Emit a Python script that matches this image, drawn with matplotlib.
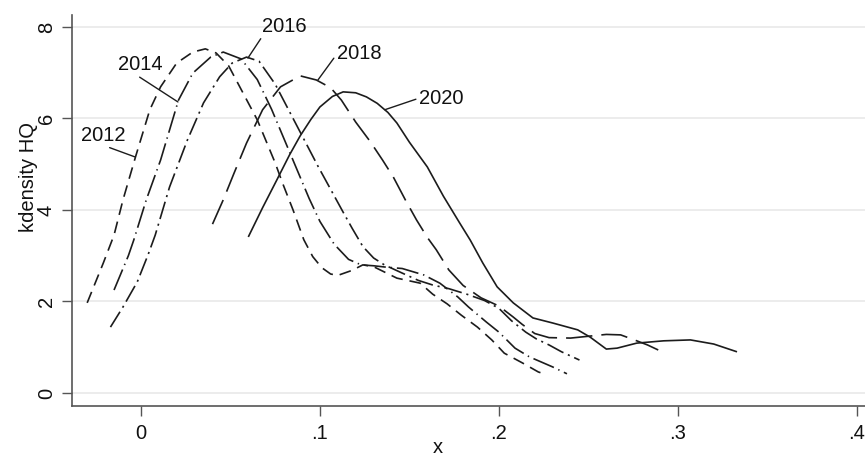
import matplotlib
matplotlib.use("Agg")
import matplotlib.pyplot as plt

plt.rcParams['font.family'] = ['Liberation Sans', 'DejaVu Sans']
plt.rcParams['lines.scale_dashes'] = False

# kernel density curves
x_2012 = [-0.030, -0.021, -0.015, -0.010, -0.003, 0.005, 0.011, 0.020, 0.029, 0.036,
          0.042, 0.049, 0.057, 0.065, 0.070, 0.075, 0.079, 0.085, 0.091, 0.096,
          0.101, 0.106, 0.110, 0.118, 0.124, 0.130, 0.143, 0.156, 0.163, 0.171, 0.179,
          0.188, 0.196, 0.203, 0.213, 0.222, 0.225]
y_2012 = [1.97, 2.84, 3.45, 4.22, 5.16, 6.19, 6.69, 7.21, 7.45, 7.52,
          7.43, 7.15, 6.56, 5.97, 5.50, 5.03, 4.60, 4.00, 3.35, 2.98,
          2.74, 2.60, 2.57, 2.68, 2.80, 2.76, 2.51, 2.40, 2.16, 1.95, 1.70,
          1.44, 1.16, 0.87, 0.66, 0.46, 0.42]

x_2014 = [-0.015, -0.007, -0.004, 0.003, 0.011, 0.021, 0.029, 0.039, 0.046, 0.056,
          0.065, 0.073, 0.080, 0.087, 0.094, 0.100, 0.108, 0.116, 0.123,
          0.130, 0.137, 0.146, 0.158, 0.167, 0.177, 0.183, 0.193, 0.200, 0.209,
          0.217, 0.230, 0.238]
y_2014 = [2.25, 3.00, 3.34, 4.22, 5.09, 6.40, 6.99, 7.34, 7.45, 7.30,
          6.85, 6.20, 5.55, 4.90, 4.25, 3.75, 3.25, 2.92, 2.80,
          2.78, 2.75, 2.72, 2.58, 2.40, 2.10, 1.88, 1.55, 1.33, 0.98,
          0.79, 0.57, 0.42]

x_2016 = [-0.017, -0.010, -0.002, 0.004, 0.008, 0.016, 0.026, 0.035, 0.044, 0.051,
          0.059, 0.066, 0.075, 0.083, 0.091, 0.099, 0.106, 0.113, 0.118,
          0.124, 0.130, 0.136, 0.146, 0.155, 0.163, 0.172, 0.182,
          0.192, 0.200, 0.207, 0.215, 0.221, 0.228, 0.235, 0.245]
y_2016 = [1.44, 1.88, 2.43, 3.02, 3.45, 4.50, 5.53, 6.34, 6.91, 7.21,
          7.34, 7.25, 6.75, 6.15, 5.55, 4.95, 4.45, 3.95, 3.60,
          3.20, 2.95, 2.80, 2.62, 2.46, 2.36, 2.28, 2.16,
          2.02, 1.85, 1.58, 1.33, 1.18, 1.05, 0.90, 0.72]

x_2018 = [0.040, 0.046, 0.052, 0.059, 0.068, 0.078, 0.089, 0.098, 0.106, 0.112,
          0.120, 0.128, 0.135, 0.141, 0.148, 0.154, 0.160, 0.165, 0.172, 0.180,
          0.190, 0.200, 0.208, 0.213, 0.220, 0.228, 0.240, 0.250, 0.260, 0.268,
          0.275, 0.283, 0.289]
y_2018 = [3.69, 4.22, 4.80, 5.46, 6.19, 6.69, 6.93, 6.84, 6.67, 6.40,
          5.92, 5.50, 5.09, 4.72, 4.20, 3.78, 3.40, 3.13, 2.69, 2.35,
          2.08, 1.90, 1.66, 1.50, 1.30, 1.21, 1.20, 1.24, 1.28, 1.27,
          1.17, 1.05, 0.94]

x_2020 = [0.060, 0.068, 0.076, 0.083, 0.089, 0.095, 0.100, 0.107, 0.113, 0.120, 0.126,
          0.132, 0.138, 0.143, 0.150, 0.160, 0.169, 0.178, 0.184, 0.191, 0.199,
          0.208, 0.219, 0.230, 0.244, 0.251, 0.260, 0.266, 0.277, 0.292, 0.307,
          0.320, 0.333]
y_2020 = [3.41, 4.05, 4.66, 5.20, 5.62, 5.98, 6.25, 6.48, 6.58, 6.56, 6.47,
          6.33, 6.13, 5.90, 5.48, 4.94, 4.30, 3.72, 3.34, 2.84, 2.32,
          1.97, 1.64, 1.53, 1.38, 1.22, 0.96, 0.98, 1.09, 1.14, 1.16,
          1.07, 0.90]

years = ["2012", "2014", "2016", "2018", "2020"]
xs = [x_2012, x_2014, x_2016, x_2018, x_2020]
ys = [y_2012, y_2014, y_2016, y_2018, y_2020]

# line patterns (points)
styles = [(0, (8.5, 5.0)),
          (0, (16, 3.5, 1, 3.5)),
          (0, (13, 3.5, 1.5, 3.5)),
          (0, (19, 6.5)),
          '-']

# where the year labels sit, and where their pointers touch the curves
label_pos = [(-0.0212, 5.63), (-0.0006, 7.17), (0.0799, 8.01), (0.1218, 7.42), (0.1676, 6.44)]
tip_pos = [(-0.0034, 5.16), (0.0207, 6.36), (0.0598, 7.32), (0.0989, 6.84), (0.1363, 6.19)]
relpos = [(0.48, 0.0), (0.4, 0.0), (0.05, 0.1), (0.0, 0.45), (0.0, 0.5)]

line_col = '#1c1c1c'

fig = plt.figure(figsize=(8.65, 4.57), dpi=100)
ax = fig.add_axes([0.0832, 0.1116, 0.9168, 0.8556])

for i in range(len(years)):
    ax.plot(xs[i], ys[i], color=line_col, lw=1.2, linestyle=styles[i],
            solid_capstyle='butt', dash_capstyle='butt', solid_joinstyle='round')
    ax.annotate(years[i], xy=tip_pos[i], xytext=label_pos[i], ha='center', va='center',
                fontsize=14.5, color='#111111',
                arrowprops=dict(arrowstyle='-', color=line_col, lw=1.0,
                                shrinkA=0, shrinkB=0, relpos=relpos[i]))

ax.set_xlim(-0.0385, 0.4045)
ax.set_ylim(-0.284, 8.26)
ax.set_xticks([0, 0.1, 0.2, 0.3, 0.4])
ax.set_xticklabels(["0", ".1", ".2", ".3", ".4"])
ax.set_yticks([0, 2, 4, 6, 8])
ax.set_yticklabels(["0", "2", "4", "6", "8"], rotation=90, va='center')

ax.grid(axis='y', color='#ebebeb', lw=1.3)
ax.set_axisbelow(True)
ax.spines['right'].set_visible(False)
ax.spines['top'].set_visible(False)
ax.spines['left'].set_color('#555555')
ax.spines['bottom'].set_color('#555555')
ax.spines['left'].set_linewidth(1.2)
ax.spines['bottom'].set_linewidth(1.2)
ax.tick_params(axis='both', length=7, width=1.0, color='#555555', labelsize=14.5,
               labelcolor='#111111')
ax.tick_params(axis='y', pad=4.5)
ax.tick_params(axis='x', pad=6)

ax.set_xlabel("x", fontsize=14.5, color='#111111')
ax.xaxis.set_label_coords(0.4615, -0.082)
ax.set_ylabel("kdensity HQ", fontsize=14.5, color='#111111')
ax.yaxis.set_label_coords(-0.043, 0.585)

fig.savefig("out.png", dpi=100)
